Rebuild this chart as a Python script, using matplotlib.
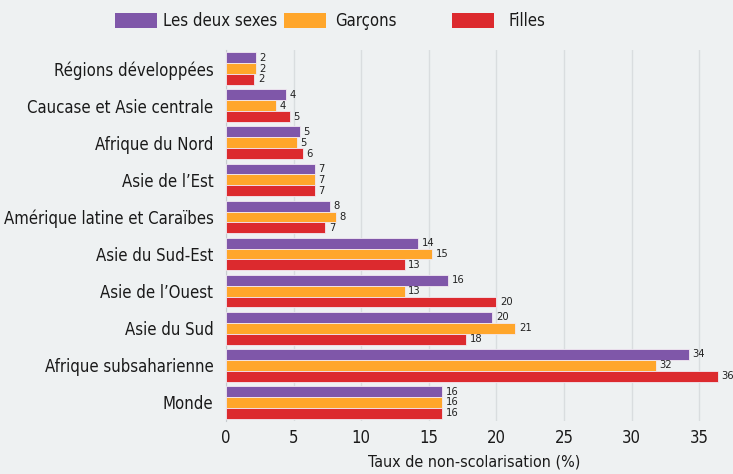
import numpy as np
import matplotlib
matplotlib.use("Agg")
import matplotlib.pyplot as plt
from matplotlib.patches import Rectangle

# data (top to bottom as in the chart)
regions = ["Régions développées", "Caucase et Asie centrale", "Afrique du Nord",
           "Asie de l’Est", "Amérique latine et Caraïbes", "Asie du Sud-Est",
           "Asie de l’Ouest", "Asie du Sud", "Afrique subsaharienne", "Monde"]
both = [2.2, 4.45, 5.45, 6.6, 7.7, 14.2, 16.45, 19.7, 34.2, 16.0]
boys = [2.2, 3.7, 5.25, 6.6, 8.1, 15.25, 13.2, 21.4, 31.8, 16.0]
girls = [2.1, 4.7, 5.7, 6.6, 7.35, 13.2, 20.0, 17.75, 36.4, 16.0]
series_names = ["Les deux sexes", "Garçons", "Filles"]
colors = ["#7f57a9", "#ffa62b", "#dc2a2e"]

plt.rcParams['font.family'] = ['DejaVu Sans']
plt.rcParams['font.stretch'] = 'condensed'
bg = "#eef1f2"

fig = plt.figure(figsize=(7.33, 4.74), dpi=100, facecolor=bg)
ax = fig.add_axes([226 / 733, 1 - 421 / 474, 497 / 733, 371 / 474])
ax.set_facecolor(bg)

y = np.arange(len(regions))
h = 0.293
for k, (vals, col) in enumerate(zip([both, boys, girls], colors)):
    pos = y + (k - 1) * h
    ax.barh(pos, vals, height=h, color=col, edgecolor="#f2e9f2", linewidth=0.6, zorder=3)
    for p, v in zip(pos, vals):
        ax.text(v + 0.25, p, f"{v:.0f}", va="center", ha="left", fontsize=8,
                color="#222222", zorder=4)

ax.set_ylim(len(regions) - 0.5, -0.5)
ax.set_xlim(0, 36.75)
ax.set_yticks(y)
ax.set_yticklabels(regions, fontsize=12, color="#1a1a1a")
ax.set_xticks(np.arange(0, 40, 5))
ax.tick_params(axis="x", labelsize=12, length=0, pad=6, colors="#1a1a1a")
ax.tick_params(axis="y", length=0, pad=9)
ax.xaxis.grid(True, color="#d9dddf", linewidth=1, zorder=0)
for s in ["top", "right", "bottom"]:
    ax.spines[s].set_visible(False)
ax.spines["left"].set_color("#c8cccf")
ax.set_xlabel("Taux de non-scolarisation (%)", fontsize=11.5, color="#1a1a1a", labelpad=5)

# legend across the top
for i, (name, col) in enumerate(zip(series_names, colors)):
    x0 = (115 + 168.5 * i) / 733
    fig.add_artist(Rectangle((x0, 1 - 28 / 474), 42 / 733, 15 / 474,
                             transform=fig.transFigure, facecolor=col, edgecolor="none"))
    fig.text(x0 + (48 + 4 * i) / 733, 1 - 20.5 / 474, name, fontsize=12,
             va="center", ha="left", color="#1a1a1a")

fig.savefig("out.png", dpi=100, facecolor=bg)
